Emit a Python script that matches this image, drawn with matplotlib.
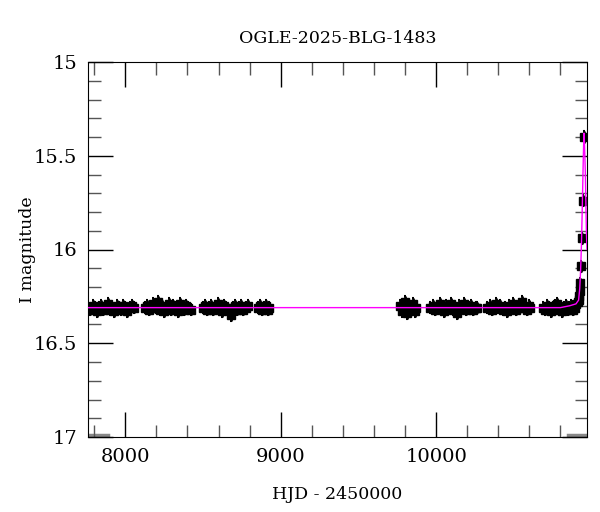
import numpy as np
import matplotlib
matplotlib.use('Agg')
import matplotlib.pyplot as plt
from matplotlib.ticker import MultipleLocator

plt.rcParams['font.family'] = 'DejaVu Serif'

title = 'OGLE-2025-BLG-1483'

# photometry, season by season
hjd = [7762, 7775, 7790, 7802, 7815, 7830, 7846, 7858, 7872, 7888, 7901, 7915, 7930,
       7944, 7958, 7971, 7985, 8000, 8014, 8028, 8042, 8056,
       8124, 8138, 8151, 8166, 8180, 8195, 8210, 8224, 8238, 8252, 8266, 8280, 8294,
       8308, 8322, 8336, 8350, 8364, 8378, 8392, 8406, 8420,
       8497, 8510, 8524, 8538, 8552, 8566, 8580, 8594, 8608, 8622, 8636, 8650, 8664,
       8677, 8690, 8704, 8718, 8732, 8746, 8760, 8774, 8788,
       8856, 8868, 8880, 8893, 8905, 8917, 8927,
       9766, 9778, 9790, 9802, 9814, 9826, 9838, 9850, 9862, 9869,
       9963, 9978, 9993, 10008, 10022, 10036, 10050, 10064, 10079, 10094, 10108,
       10122, 10136, 10150, 10165, 10180, 10195, 10210, 10225, 10240, 10255, 10262,
       10330, 10344, 10358, 10372, 10386, 10400, 10414, 10428, 10442, 10456, 10470,
       10484, 10498, 10512, 10526, 10540, 10554, 10568, 10582, 10596, 10603,
       10690, 10703, 10716, 10729, 10742, 10755, 10768, 10781, 10794, 10807, 10820,
       10833, 10846, 10858, 10870, 10882, 10893, 10903, 10912, 10918, 10922, 10925,
       10927, 10934, 10939, 10943, 10952]
mag = [16.31, 16.32, 16.30, 16.31, 16.33, 16.31, 16.30, 16.32, 16.31, 16.29, 16.32, 16.31, 16.33,
       16.30, 16.31, 16.32, 16.30, 16.31, 16.33, 16.31, 16.30, 16.31,
       16.31, 16.30, 16.32, 16.31, 16.29, 16.31, 16.28, 16.32, 16.30, 16.33, 16.31, 16.29, 16.32,
       16.30, 16.31, 16.33, 16.29, 16.31, 16.32, 16.30, 16.31, 16.32,
       16.31, 16.30, 16.32, 16.31, 16.30, 16.32, 16.31, 16.29, 16.31, 16.33, 16.30, 16.31, 16.32,
       16.35, 16.31, 16.30, 16.32, 16.31, 16.30, 16.32, 16.31, 16.30,
       16.31, 16.30, 16.32, 16.31, 16.30, 16.32, 16.31,
       16.30, 16.33, 16.31, 16.28, 16.34, 16.30, 16.32, 16.29, 16.33, 16.31,
       16.31, 16.30, 16.32, 16.31, 16.29, 16.31, 16.33, 16.30, 16.31, 16.29, 16.32,
       16.31, 16.34, 16.30, 16.31, 16.29, 16.32, 16.31, 16.30, 16.32, 16.31, 16.31,
       16.31, 16.30, 16.32, 16.31, 16.29, 16.31, 16.30, 16.32, 16.31, 16.33, 16.30,
       16.31, 16.29, 16.32, 16.31, 16.30, 16.28, 16.31, 16.32, 16.30, 16.31,
       16.31, 16.32, 16.30, 16.31, 16.33, 16.31, 16.30, 16.29, 16.32, 16.33, 16.31,
       16.30, 16.32, 16.31, 16.30, 16.32, 16.31, 16.29, 16.28, 16.27, 16.25, 16.22,
       16.18, 16.09, 15.94, 15.74, 15.40]
err = [0.03] * len(hjd)

# model curve
model_t = [7760, 10800, 10860, 10900, 10917, 10924, 10930, 10935, 10939, 10943,
           10947, 10950, 10952, 10955, 10960, 10964, 10967, 10971]
model_m = [16.31, 16.31, 16.30, 16.29, 16.27, 16.21, 16.11, 15.98, 15.84, 15.68,
           15.52, 15.42, 15.38, 15.44, 15.58, 15.76, 15.90, 16.00]

# grey strips at the bottom edge
strip_t = [[7760, 7890], [10849, 10971]]
strip_m = 16.99

fig = plt.figure(figsize=(6, 5.12), dpi=100)
ax = fig.add_axes([88/600, 1 - 437/512, 499/600, 375/512])

ax.errorbar(hjd, mag, yerr=err, fmt='s', color='black', ms=5.5, elinewidth=2,
            capsize=1, capthick=1.5, zorder=2)
ax.plot(model_t, model_m, color='#ff00ff', lw=1, zorder=3)
for t in strip_t:
    ax.plot(t, [strip_m, strip_m], color='#888888', lw=2.5, zorder=1)

ax.set_xlim(7760, 10971)
ax.set_ylim(17, 15)
ax.xaxis.set_major_locator(MultipleLocator(1000))
ax.xaxis.set_minor_locator(MultipleLocator(200))
ax.yaxis.set_major_locator(MultipleLocator(0.5))
ax.yaxis.set_minor_locator(MultipleLocator(0.1))
ax.yaxis.set_major_formatter(plt.FuncFormatter(lambda v, p: f'{v:g}'))
ax.tick_params(which='both', direction='in', top=True, right=True, labelsize=14)
ax.tick_params(which='major', length=18, width=1)
ax.tick_params(which='minor', length=9, width=1, color='#555555')
ax.tick_params(axis='x', pad=8)
ax.tick_params(axis='y', pad=8)

ax.set_title(title, fontsize=12.5, pad=14)
ax.set_xlabel('HJD - 2450000', fontsize=12.5, labelpad=14)
ax.set_ylabel('I magnitude', fontsize=12.5, labelpad=-2)

fig.savefig('out.png', dpi=100)
